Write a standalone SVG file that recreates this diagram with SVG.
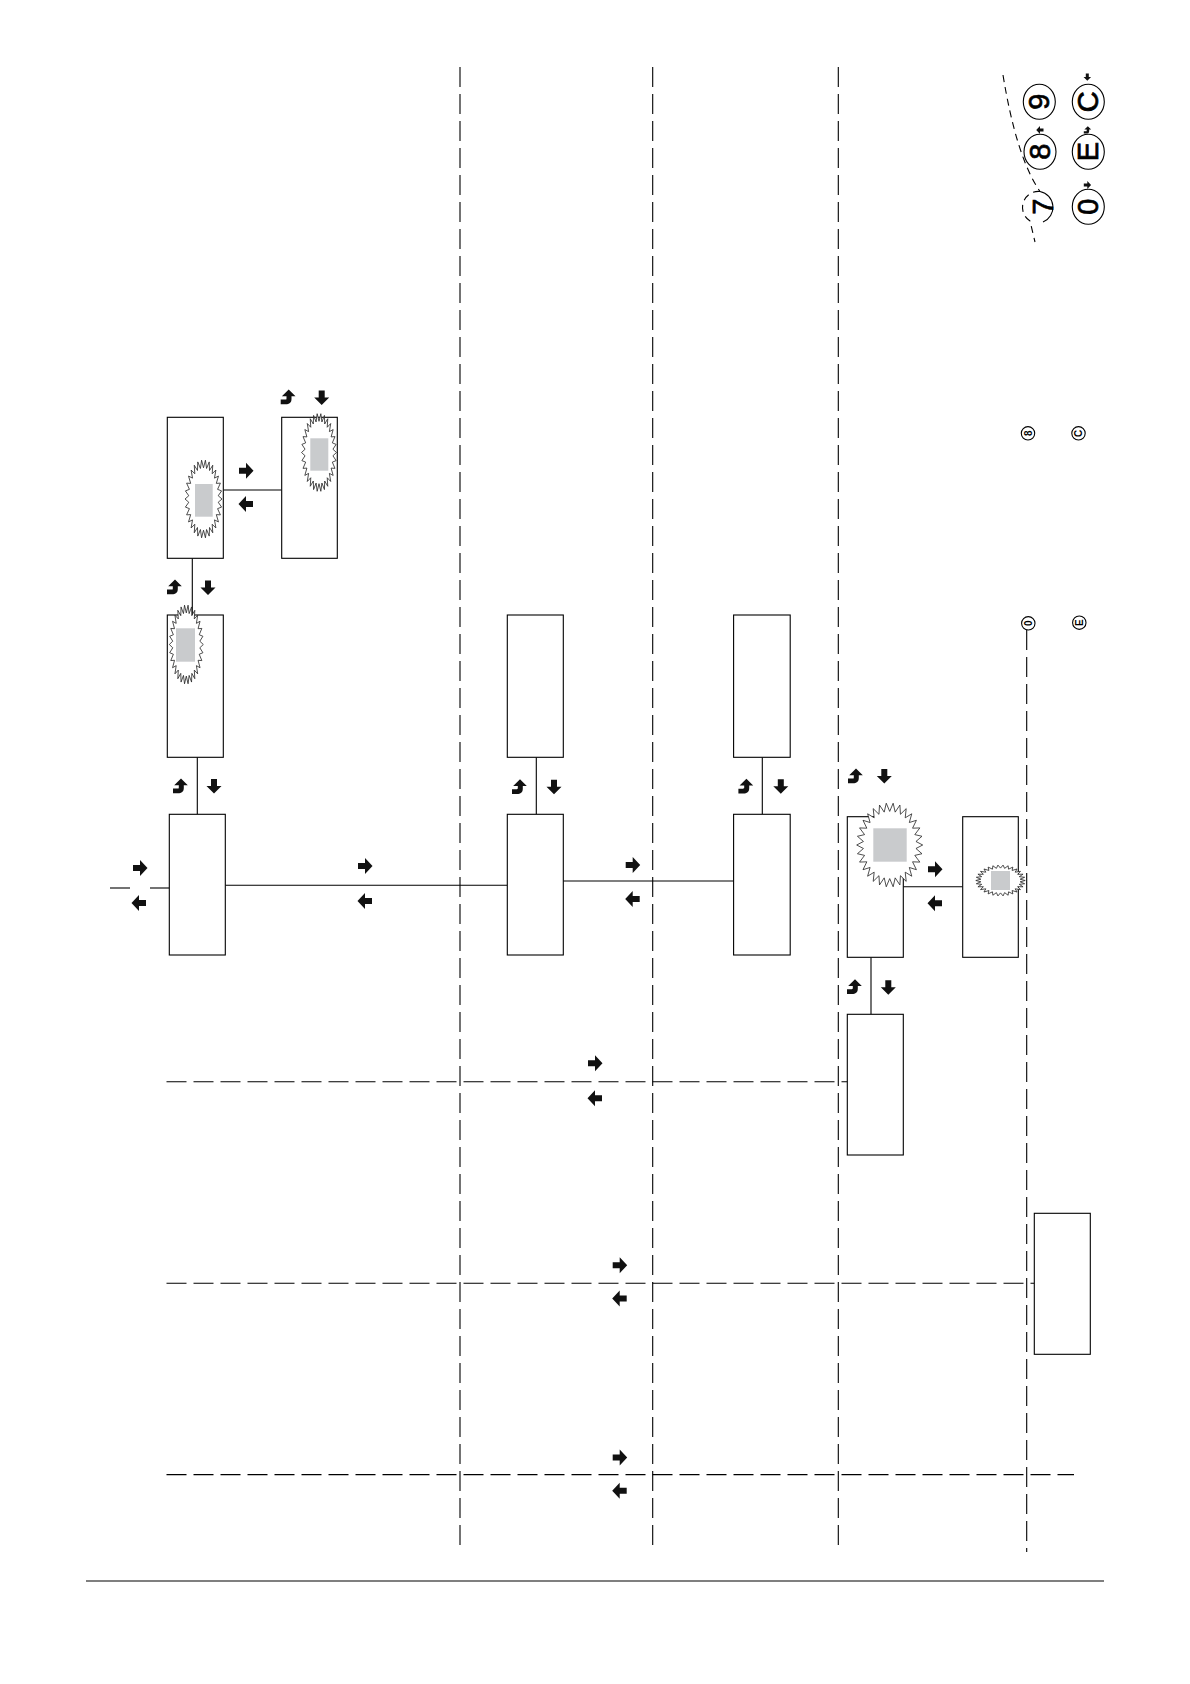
<svg xmlns="http://www.w3.org/2000/svg" xmlns:xlink="http://www.w3.org/1999/xlink" width="1190" height="1684" viewBox="0 0 1190 1684">
<style>
.box{fill:#fff;stroke:#000;stroke-width:1.1}
.ln{stroke:#000;stroke-width:1.1;fill:none}
.dash{stroke:#000;stroke-width:1.1;fill:none;stroke-dasharray:20 7}
.burst{fill:#fff;stroke:#222;stroke-width:0.8;vector-effect:non-scaling-stroke}
.gray{fill:#c9cbcd}
.arr{fill:#111}
.cir{fill:#fff;stroke:#000;stroke-width:1.1}
.lg{font-family:"Liberation Sans",Arial,sans-serif;font-size:29px;fill:#000;stroke:#000;stroke-width:0.7;text-anchor:middle;dominant-baseline:central}
.sm{font-family:"Liberation Sans",Arial,sans-serif;font-size:10px;fill:#000;text-anchor:middle;dominant-baseline:central;font-weight:bold}
</style>
<defs>
<polygon id="burst" class="burst" points="1,0 .7956,.0836 .9781,.2079 .7608,.2472 .9135,.4067 .6928,.4 .809,.5878 .5945,.5353 .6691,.7431 .4702,.6472 .5,.866 .3254,.7308 .309,.9511 .1663,.7825 .1045,.9945 0,.8 -.1045,.9945 -.1663,.7825 -.309,.9511 -.3254,.7308 -.5,.866 -.4702,.6472 -.6691,.7431 -.5945,.5353 -.809,.5878 -.6928,.4 -.9135,.4067 -.7608,.2472 -.9781,.2079 -.7956,.0836 -1,0 -.7956,-.0836 -.9781,-.2079 -.7608,-.2472 -.9135,-.4067 -.6928,-.4 -.809,-.5878 -.5945,-.5353 -.6691,-.7431 -.4702,-.6472 -.5,-.866 -.3254,-.7308 -.309,-.9511 -.1663,-.7825 -.1045,-.9945 0,-.8 .1045,-.9945 .1663,-.7825 .309,-.9511 .3254,-.7308 .5,-.866 .4702,-.6472 .6691,-.7431 .5945,-.5353 .809,-.5878 .6928,-.4 .9135,-.4067 .7608,-.2472 .9781,-.2079 .7956,-.0836"/>
<path id="aR" class="arr" d="M-7,-3 H0 V-8 L7.5,0 L0,8 V3 H-7 Z"/>
<path id="aL" class="arr" d="M7,-3 H0 V-8 L-7.5,0 L0,8 V3 H7 Z"/>
<path id="aD" class="arr" d="M-3,-7 V0 H-7.5 L0,7.5 L7.5,0 H3 V-7 Z"/>
<path id="aU" class="arr" d="M1,-7.5 L7.8,-0.8 H3.8 V2 C3.8,5.8 1.6,7.2 -2,7.2 H-7 V2.6 H-2.2 C-1.5,2.6 -1.2,2.2 -1.2,1.4 V-0.8 H-5.8 Z"/>
</defs>

<g id="frame">
<line class="dash" x1="460" y1="67" x2="460" y2="1552"/>
<line class="dash" x1="652.7" y1="67" x2="652.7" y2="1552"/>
<line class="dash" x1="838.3" y1="67" x2="838.3" y2="1552"/>
<line class="dash" x1="1026.7" y1="630" x2="1026.7" y2="1552"/>
<line class="ln" x1="86" y1="1581" x2="1104" y2="1581"/>
</g>

<g id="connectors">
<line class="dash" x1="166.5" y1="1081.7" x2="847.3" y2="1081.7"/>
<line class="dash" x1="166.5" y1="1283.3" x2="1034.3" y2="1283.3"/>
<line class="dash" x1="166.5" y1="1474.6" x2="1074" y2="1474.6"/>
<line class="ln" x1="110" y1="888" x2="130" y2="888"/>
<line class="ln" x1="150" y1="888" x2="169.3" y2="888"/>
<line class="ln" x1="225.3" y1="885.3" x2="507.3" y2="885.3"/>
<line class="ln" x1="561.7" y1="881" x2="733.6" y2="881"/>
<line class="ln" x1="903.3" y1="886.7" x2="962.7" y2="886.7"/>
<line class="ln" x1="223.3" y1="490" x2="281.7" y2="490"/>
<line class="ln" x1="192.3" y1="558.3" x2="192.3" y2="615"/>
<line class="ln" x1="197.3" y1="757.3" x2="197.3" y2="814.3"/>
<line class="ln" x1="536.3" y1="757.3" x2="536.3" y2="814.3"/>
<line class="ln" x1="762.3" y1="757.3" x2="762.3" y2="814.3"/>
<line class="ln" x1="871" y1="957.3" x2="871" y2="1014.3"/>
<use href="#aR" x="140" y="868"/><use href="#aL" x="139" y="903"/>
<use href="#aR" x="365" y="866"/><use href="#aL" x="365" y="901"/>
<use href="#aR" x="632.7" y="865"/><use href="#aL" x="632.7" y="899"/>
<use href="#aR" x="935" y="869.3"/><use href="#aL" x="935" y="903.3"/>
<use href="#aR" x="246" y="470.7"/><use href="#aL" x="246" y="504"/>
<use href="#aR" x="595" y="1063.3"/><use href="#aL" x="595" y="1098.3"/>
<use href="#aR" x="619.7" y="1265.2"/><use href="#aL" x="619.7" y="1298.5"/>
<use href="#aR" x="619.7" y="1457.5"/><use href="#aL" x="619.7" y="1490.7"/>
<use href="#aU" x="287.7" y="397"/><use href="#aD" x="321.7" y="397.5"/>
<use href="#aU" x="174" y="587"/><use href="#aD" x="208" y="587.5"/>
<use href="#aU" x="180" y="786"/><use href="#aD" x="214" y="786"/>
<use href="#aU" x="519" y="786.7"/><use href="#aD" x="554" y="786.7"/>
<use href="#aU" x="745.4" y="786.2"/><use href="#aD" x="780.8" y="786.2"/>
<use href="#aU" x="855" y="776"/><use href="#aD" x="884.3" y="776"/>
<use href="#aU" x="854" y="986.7"/><use href="#aD" x="888.3" y="987.3"/>
</g>

<g id="nodeA"><rect class="box" x="167.3" y="417.3" width="56" height="141"/>
<use href="#burst" transform="translate(203.5,499) scale(18.5,39)"/>
<rect class="gray" x="195" y="484" width="17.7" height="32.7"/></g>
<g id="nodeB"><rect class="box" x="281.7" y="417.3" width="55.6" height="141"/>
<use href="#burst" transform="translate(319,452.5) scale(17.5,39)"/>
<rect class="gray" x="310.3" y="438.3" width="18" height="32.4"/></g>
<g id="nodeC"><rect class="box" x="167.3" y="615" width="56" height="142.3"/>
<use href="#burst" transform="translate(186.3,644.5) scale(17,39.5)"/>
<rect class="gray" x="176" y="628.3" width="19" height="33.4"/></g>
<g id="nodeD"><rect class="box" x="169.3" y="814.3" width="56" height="140.7"/></g>
<g id="nodeE"><rect class="box" x="507.3" y="615" width="56" height="142.3"/></g>
<g id="nodeF"><rect class="box" x="507.3" y="814.3" width="56" height="140.7"/></g>
<g id="nodeG"><rect class="box" x="733.6" y="615" width="56.6" height="142.3"/></g>
<g id="nodeH"><rect class="box" x="733.6" y="814.3" width="56.6" height="140.7"/></g>
<g id="nodeI"><rect class="box" x="847.3" y="816.7" width="56" height="140.6"/>
<use href="#burst" transform="translate(889.7,845) scale(33,42)"/>
<rect class="gray" x="873.3" y="828.3" width="33.4" height="33.4"/></g>
<g id="nodeJ"><rect class="box" x="962.7" y="816.7" width="55.6" height="140.6"/>
<use href="#burst" transform="translate(1000.5,880.5) scale(24.7,15.5)"/>
<rect class="gray" x="991" y="871" width="19" height="19"/></g>
<g id="nodeK"><rect class="box" x="847.3" y="1014.3" width="56" height="140.7"/></g>
<g id="nodeL"><rect class="box" x="1034.3" y="1213.3" width="56" height="141"/></g>

<g id="legend">
<path class="ln" d="M1003,75 C1012,130 1024,168 1040,191.5" stroke-dasharray="7 5"/>
<path class="ln" d="M1040,191.5 A16,16 0 0 0 1030,221 L1035,242" stroke-dasharray="7 5"/>
<path class="ln" d="M1040,191.5 A16,16 0 0 1 1043,222"/>
<ellipse class="cir" cx="1039.3" cy="101.7" rx="16" ry="17.5"/>
<text class="lg" transform="translate(1039.3,101.7) rotate(-90)">9</text>
<ellipse class="cir" cx="1088.3" cy="101.7" rx="16" ry="17.5"/>
<text class="lg" transform="translate(1088.3,101.7) rotate(-90)">C</text>
<ellipse class="cir" cx="1040" cy="151.7" rx="16" ry="17.5"/>
<text class="lg" transform="translate(1040,151.7) rotate(-90)">8</text>
<ellipse class="cir" cx="1088.3" cy="151.7" rx="16" ry="17.5"/>
<text class="lg" transform="translate(1088.3,151.7) rotate(-90)">E</text>
<text class="lg" transform="translate(1043,206.7) rotate(-90)">7</text>
<ellipse class="cir" cx="1088.3" cy="206.7" rx="16" ry="17.5"/>
<text class="lg" transform="translate(1088.3,206.7) rotate(-90)">0</text>
<use href="#aD" transform="translate(1087.3,77) scale(0.5)"/>
<use href="#aL" transform="translate(1040,130) scale(0.5)"/>
<use href="#aU" transform="translate(1087.3,130) scale(0.5)"/>
<use href="#aR" transform="translate(1087.3,185) scale(0.5)"/>
<circle class="cir" cx="1028" cy="433.3" r="6.7"/>
<text class="sm" transform="translate(1028,433.3) rotate(-90)">8</text>
<circle class="cir" cx="1078.5" cy="433.3" r="6.7"/>
<text class="sm" transform="translate(1078.5,433.3) rotate(-90)">C</text>
<circle class="cir" cx="1028.3" cy="623.3" r="6.7"/>
<text class="sm" transform="translate(1028.3,623.3) rotate(-90)">0</text>
<circle class="cir" cx="1079.3" cy="622.7" r="6.7"/>
<text class="sm" transform="translate(1079.3,622.7) rotate(-90)">E</text>
</g>
</svg>
